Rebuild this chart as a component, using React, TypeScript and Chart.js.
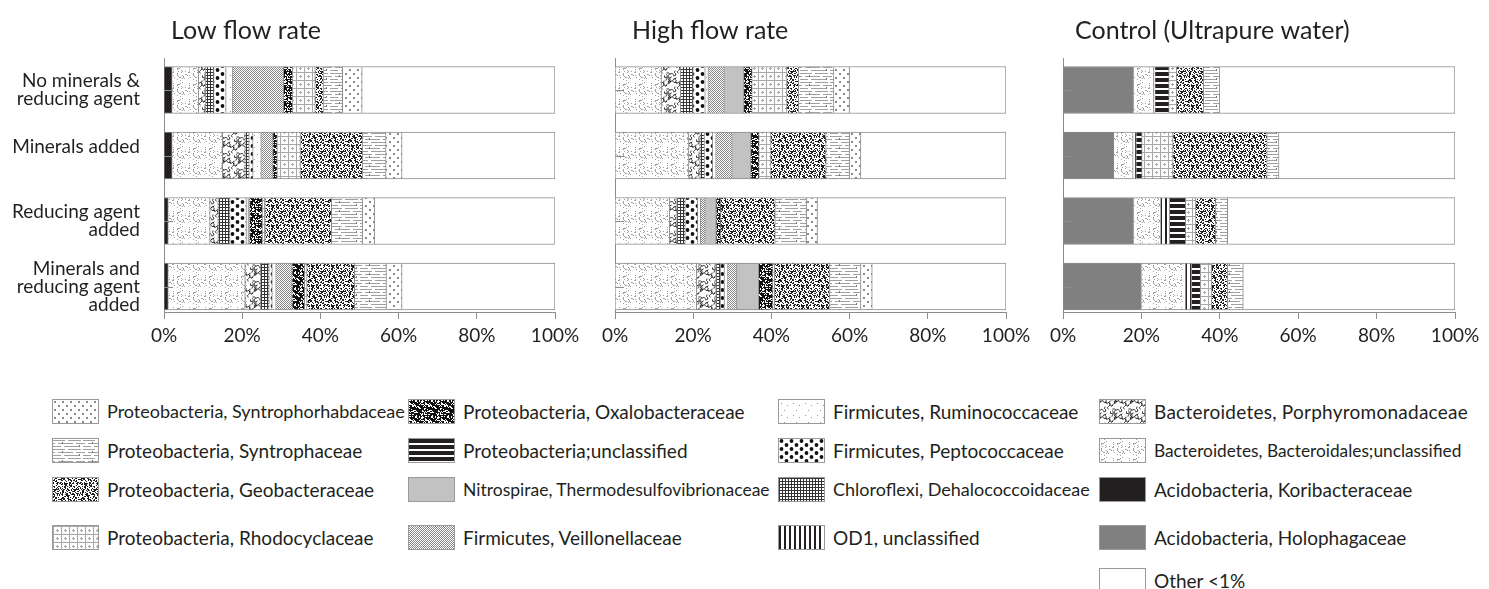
import React, { useEffect, useMemo, useRef } from 'react';
import { Chart, registerables } from 'chart.js';

Chart.register(...registerables);

const FONT = 'Lato, "Open Sans", sans-serif';
const INK = '#231f20';
const RULE = '#8c8c8c';

// Taxa in stacking order (left to right inside each bar)
const taxa = [
  'Acidobacteria, Holophagaceae',
  'Acidobacteria, Koribacteraceae',
  'Bacteroidetes, Bacteroidales;unclassified',
  'Bacteroidetes, Porphyromonadaceae',
  'OD1, unclassified',
  'Chloroflexi, Dehalococcoidaceae',
  'Firmicutes, Peptococcaceae',
  'Firmicutes, Ruminococcaceae',
  'Firmicutes, Veillonellaceae',
  'Nitrospirae, Thermodesulfovibrionaceae',
  'Proteobacteria;unclassified',
  'Proteobacteria, Oxalobacteraceae',
  'Proteobacteria, Rhodocyclaceae',
  'Proteobacteria, Geobacteraceae',
  'Proteobacteria, Syntrophaceae',
  'Proteobacteria, Syntrophorhabdaceae',
];
const otherLabel = 'Other <1%';

const conditions = [
  ['No minerals &', 'reducing agent'],
  ['Minerals added', ''],
  ['Reducing agent', 'added'],
  ['Minerals and', 'reducing agent', 'added'],
];

const percentTicks = [0, 20, 40, 60, 80, 100];

// Relative abundance (%), one row per condition, one column per taxon
const lowFlow = [
  [0, 2.1, 6.8, 1.8, 0, 2.1, 3.1, 1.7, 13.0, 0, 0, 2.3, 5.8, 2.1, 4.9, 5.0],
  [0, 2.1, 12.9, 5.8, 0, 1.0, 1.0, 2.1, 3.0, 0, 0, 1.1, 5.9, 15.9, 6.0, 4.1],
  [0, 1.1, 10.7, 2.1, 0, 3.0, 4.2, 0.5, 0.4, 0, 0, 3.2, 0.7, 17.0, 7.9, 3.1],
  [0, 1.1, 19.7, 4.0, 0, 2.1, 0.8, 1.0, 4.1, 0, 0, 3.2, 0.6, 12.2, 8.1, 4.0],
];
const highFlow = [
  [0, 0, 11.9, 4.9, 0, 3.2, 3.1, 0.8, 4.1, 5.0, 0, 2.1, 8.9, 3.0, 9.0, 4.0],
  [0, 0, 18.9, 2.9, 0, 1.1, 2.1, 0.9, 4.1, 4.8, 0, 2.1, 3.0, 14.1, 6.0, 2.9],
  [0, 0, 14.0, 1.9, 0, 2.1, 3.2, 0.7, 1.2, 2.8, 0, 1.2, 0, 13.9, 8.0, 2.8],
  [0, 0, 20.9, 5.0, 0, 1.1, 1.0, 0.9, 2.3, 5.6, 0, 3.6, 0.5, 14.1, 7.9, 2.9],
];
const control = [
  [18.0, 0, 5.2, 0, 0.3, 0, 0, 0, 0, 0, 3.6, 0, 1.9, 6.9, 4.1, 0],
  [13.0, 0, 4.9, 0, 0.8, 0, 0, 0, 0, 0, 1.5, 0, 7.9, 24.0, 3.0, 0],
  [18.0, 0, 7.0, 0, 2.2, 0, 0, 0, 0, 0, 4.1, 0, 2.6, 5.1, 3.0, 0],
  [20.0, 0, 11.3, 0, 1.5, 0, 0, 0, 0, 0, 2.3, 0, 2.8, 4.1, 4.0, 0],
];

const panelTitles = ['Low flow rate', 'High flow rate', 'Control (Ultrapure water)'];

// deterministic texture noise
function hash(n: number) {
  const s = Math.sin(n * 127.1 + 311.7) * 43758.5453;
  return s - Math.floor(s);
}

function makeTile(kind: number): HTMLCanvasElement {
  const c = document.createElement('canvas');
  const size = (w: number, h: number) => {
    c.width = w;
    c.height = h;
    const g = c.getContext('2d')!;
    g.fillStyle = '#fff';
    g.fillRect(0, 0, w, h);
    return g;
  };
  const wrapped = (w: number, h: number, fn: (dx: number, dy: number) => void) => {
    for (const dx of [-w, 0, w]) for (const dy of [-h, 0, h]) fn(dx, dy);
  };
  switch (kind) {
    case 0: { const g = size(4, 4); g.fillStyle = '#808080'; g.fillRect(0, 0, 4, 4); break; }
    case 1: { const g = size(4, 4); g.fillStyle = INK; g.fillRect(0, 0, 4, 4); break; }
    case 2: { // fine stipple
      const g = size(16, 16); g.fillStyle = '#a0a0a0';
      for (let k = 0; k < 36; k++) g.fillRect(Math.floor(hash(k * 2.1) * 16), Math.floor(hash(k * 3.7 + 5) * 16), 1, 1);
      break;
    }
    case 3: { // worm-like squiggles
      const g = size(16, 16); g.strokeStyle = '#222'; g.lineWidth = 0.9;
      for (let k = 0; k < 12; k++) {
        const pts: [number, number][] = [];
        let x = hash(k * 3 + 1) * 16, y = hash(k * 3 + 2) * 16, a = hash(k * 3 + 3) * Math.PI * 2;
        pts.push([x, y]);
        for (let s = 0; s < 4; s++) {
          a += (hash(k * 10 + s + 50) - 0.5) * 3.0;
          x += Math.cos(a) * 2.0; y += Math.sin(a) * 2.0;
          pts.push([x, y]);
        }
        wrapped(16, 16, (dx, dy) => {
          g.beginPath();
          pts.forEach(([px, py], i) => (i ? g.lineTo(px + dx, py + dy) : g.moveTo(px + dx, py + dy)));
          g.stroke();
        });
      }
      break;
    }
    case 4: { const g = size(5, 6); g.fillStyle = INK; g.fillRect(0, 0, 2, 6); break; }
    case 5: { const g = size(3, 3); g.fillStyle = '#333'; g.fillRect(0, 0, 3, 1); g.fillRect(0, 0, 1, 3); break; }
    case 6: { // large dots
      const g = size(10, 8); g.fillStyle = '#111';
      wrapped(10, 8, (dx, dy) => {
        g.beginPath(); g.arc(2.5 + dx, 2 + dy, 1.9, 0, Math.PI * 2); g.fill();
        g.beginPath(); g.arc(7.5 + dx, 6 + dy, 1.9, 0, Math.PI * 2); g.fill();
      });
      break;
    }
    case 7: { const g = size(12, 12); g.fillStyle = '#999';
      g.fillRect(2, 3, 1, 1); g.fillRect(8, 5, 1, 1); g.fillRect(5, 10, 1, 1); break; }
    case 8: { const g = size(2, 2); g.fillStyle = '#8a8a8a'; g.fillRect(0, 0, 1, 1); g.fillRect(1, 1, 1, 1); break; }
    case 9: { const g = size(4, 4); g.fillStyle = '#c2c2c2'; g.fillRect(0, 0, 4, 4); break; }
    case 10: { const g = size(6, 6); g.fillStyle = INK; g.fillRect(0, 0, 6, 4); break; }
    case 11: { // dense dark speckle
      const g = size(16, 16); g.fillStyle = '#111'; g.fillRect(0, 0, 16, 16); g.fillStyle = '#fff';
      for (let k = 0; k < 256; k++) if (hash(k + 900) < 0.3) g.fillRect(k % 16, Math.floor(k / 16), 1, 1);
      break;
    }
    case 12: { // light grid with crosses
      const g = size(8, 8); g.fillStyle = '#a8a8a8';
      g.fillRect(0, 0, 8, 1); g.fillRect(0, 0, 1, 8); g.fillRect(3, 4, 3, 1); g.fillRect(4, 3, 1, 3);
      break;
    }
    case 13: { // fine random speckle, about half coverage
      const g = size(20, 20); g.fillStyle = '#1e1e1e';
      for (let k = 0; k < 400; k++) {
        if (hash(k * 1.3 + 2000) < 0.42) g.fillRect(k % 20, Math.floor(k / 20), 1, 1);
      }
      break;
    }
    case 14: { // broken horizontal lines
      const g = size(30, 9); g.fillStyle = '#a0a0a0';
      g.fillRect(0, 1, 12, 1); g.fillRect(15, 1, 13, 1);
      g.fillRect(5, 4, 15, 1); g.fillRect(23, 4, 7, 1); g.fillRect(0, 4, 2, 1);
      g.fillRect(0, 7, 8, 1); g.fillRect(11, 7, 15, 1);
      g.fillStyle = '#777'; g.fillRect(9, 3, 1, 2); g.fillRect(26, 6, 1, 2);
      break;
    }
    case 15: { const g = size(8, 8); g.fillStyle = '#8a8a8a'; g.fillRect(1, 1, 2, 2); g.fillRect(5, 5, 2, 2); break; }
    default: size(4, 4);
  }
  return c;
}

type PanelSpec = {
  title: string;
  rows: number[][];
  left: number;
  width: number;
  yWidth: number;
  padRight: number;
  titleIndent: number;
  showLabels: boolean;
};

const CANVAS_H = 360;

function Panel({ spec, tiles }: { spec: PanelSpec; tiles: HTMLCanvasElement[] }) {
  const ref = useRef<HTMLCanvasElement>(null);
  useEffect(() => {
    const canvas = ref.current!;
    const ctx = canvas.getContext('2d')!;
    const patterns = tiles.map((t) => ctx.createPattern(t, 'repeat')!);
    const datasets: any[] = taxa.map((name, t) => ({
      label: name,
      data: spec.rows.map((r, i) => (r[t] > 0 ? { x: r[t], y: i } : null)).filter(Boolean),
      backgroundColor: patterns[t],
      borderColor: RULE,
      borderWidth: 1,
      barThickness: 47,
    }));
    datasets.push({
      label: otherLabel,
      data: spec.rows.map((r, i) => ({ x: 100 - r.reduce((a, b) => a + b, 0), y: i })),
      backgroundColor: '#ffffff',
      borderColor: RULE,
      borderWidth: 1,
      barThickness: 47,
    });

    const chart = new Chart(canvas, {
      type: 'bar',
      data: { datasets },
      options: {
        indexAxis: 'y',
        responsive: false,
        animation: false,
        events: [],
        layout: { padding: { top: 58, right: spec.padRight, left: 0, bottom: 0 } },
        plugins: { legend: { display: false }, tooltip: { enabled: false }, title: { display: false } },
        scales: {
          x: {
            type: 'linear',
            stacked: true,
            min: 0,
            max: 100,
            afterBuildTicks: (s: any) => { s.ticks = percentTicks.map((v) => ({ value: v })); },
            afterFit: (s: any) => { s.height = CANVAS_H - 312; },
            ticks: {
              callback: (v: any) => `${v}%`,
              font: { family: FONT, size: 19 },
              color: INK,
              padding: 5,
              maxRotation: 0,
              autoSkip: false,
            },
            grid: { drawOnChartArea: false, tickLength: 7, color: RULE, lineWidth: 1 },
            border: { color: RULE, width: 1 },
          },
          y: {
            type: 'linear',
            stacked: true,
            reverse: true,
            offset: false,
            min: -0.489,
            max: 3.389,
            afterBuildTicks: (s: any) => { s.ticks = conditions.map((_, i) => ({ value: i })); },
            afterFit: (s: any) => {
              s.width = spec.yWidth;
              s.paddingTop = 0;
              s.paddingBottom = 0;
            },
            ticks: {
              display: spec.showLabels,
              callback: (v: any) => conditions[v as number],
              font: { family: FONT, size: 19, lineHeight: 0.95 },
              color: INK,
              padding: 24,
              autoSkip: false,
            },
            grid: { drawOnChartArea: false, drawTicks: false, offset: false },
            border: { color: RULE, width: 1 },
          },
        },
      },
      plugins: [
        {
          id: 'panelDecor',
          afterDatasetsDraw(c: any) {
            const { ctx: g, chartArea, scales } = c;
            g.save();
            g.strokeStyle = RULE;
            g.lineWidth = 1;
            conditions.forEach((_, i) => {
              const y = Math.round(scales.y.getPixelForValue(i)) + 0.5;
              g.beginPath();
              g.moveTo(chartArea.left, y);
              g.lineTo(chartArea.left + 9, y);
              g.stroke();
            });
            g.restore();
          },
          afterDraw(c: any) {
            const g = c.ctx;
            g.save();
            g.font = `25px ${FONT}`;
            g.fillStyle = INK;
            g.textBaseline = 'alphabetic';
            g.fillText(spec.title, c.chartArea.left + spec.titleIndent, 39);
            g.restore();
          },
        },
      ],
    } as any);
    return () => chart.destroy();
  }, [spec, tiles]);
  return (
    <canvas
      ref={ref}
      width={spec.width}
      height={CANVAS_H}
      style={{ position: 'absolute', left: spec.left, top: 0, width: spec.width, height: CANVAS_H }}
    />
  );
}

const panels: PanelSpec[] = [
  { title: panelTitles[0], rows: lowFlow, left: 0, width: 590, yWidth: 164, padRight: 35, titleIndent: 7, showLabels: true },
  { title: panelTitles[1], rows: highFlow, left: 590, width: 450, yWidth: 25, padRight: 34, titleIndent: 17, showLabels: false },
  { title: panelTitles[2], rows: control, left: 1040, width: 449, yWidth: 23, padRight: 34, titleIndent: 12, showLabels: false },
];

// Legend: reversed stacking order, four entries per column, "Other" closes the last column
const legendColumnLeft = [52, 408, 778, 1099];
const legendRowCenter = [411, 450, 489, 537, 580];
const legendFontSize: Record<string, number> = {
  'Proteobacteria, Syntrophorhabdaceae': 18,
  'Nitrospirae, Thermodesulfovibrionaceae': 17.5,
  'Bacteroidetes, Bacteroidales;unclassified': 17.3,
  'Chloroflexi, Dehalococcoidaceae': 18,
};
const legendLetterSpacing: Record<string, number> = {
  'Bacteroidetes, Porphyromonadaceae': 0.25,
};

function Legend({ tiles }: { tiles: HTMLCanvasElement[] }) {
  const urls = useMemo(() => tiles.map((t) => t.toDataURL()), [tiles]);
  const order = taxa.map((_, i) => i).reverse();
  const columns: number[][] = [0, 1, 2, 3].map((c) => order.slice(c * 4, c * 4 + 4));
  columns[3].push(taxa.length);
  return (
    <>
      {columns.map((col, ci) =>
        col.map((idx, ri) => {
          const label = idx < taxa.length ? taxa[idx] : otherLabel;
          return (
            <div
              key={label}
              style={{
                position: 'absolute',
                left: legendColumnLeft[ci],
                top: legendRowCenter[ri] - 14,
                height: 28,
                display: 'flex',
                alignItems: 'center',
                whiteSpace: 'nowrap',
              }}
            >
              <div
                style={{
                  width: 47,
                  height: 25,
                  boxSizing: 'border-box',
                  border: '1px solid #9a9a9a',
                  backgroundImage: `url(${urls[idx]})`,
                  backgroundRepeat: 'repeat',
                  marginRight: 8,
                }}
              />
              <span
                style={{
                  fontFamily: FONT,
                  fontSize: legendFontSize[label] ?? 19,
                  letterSpacing: legendLetterSpacing[label] ?? 0,
                  color: INK,
                }}
              >
                {label}
              </span>
            </div>
          );
        }),
      )}
    </>
  );
}

export default function App() {
  const tiles = useMemo(() => [...taxa.map((_, i) => makeTile(i)), makeTile(99)], []);
  return (
    <div style={{ position: 'fixed', left: 0, top: 0, width: 1489, height: 589, background: '#fff', overflow: 'hidden' }}>
      {panels.map((p) => (
        <Panel key={p.title} spec={p} tiles={tiles} />
      ))}
      <Legend tiles={tiles} />
    </div>
  );
}
